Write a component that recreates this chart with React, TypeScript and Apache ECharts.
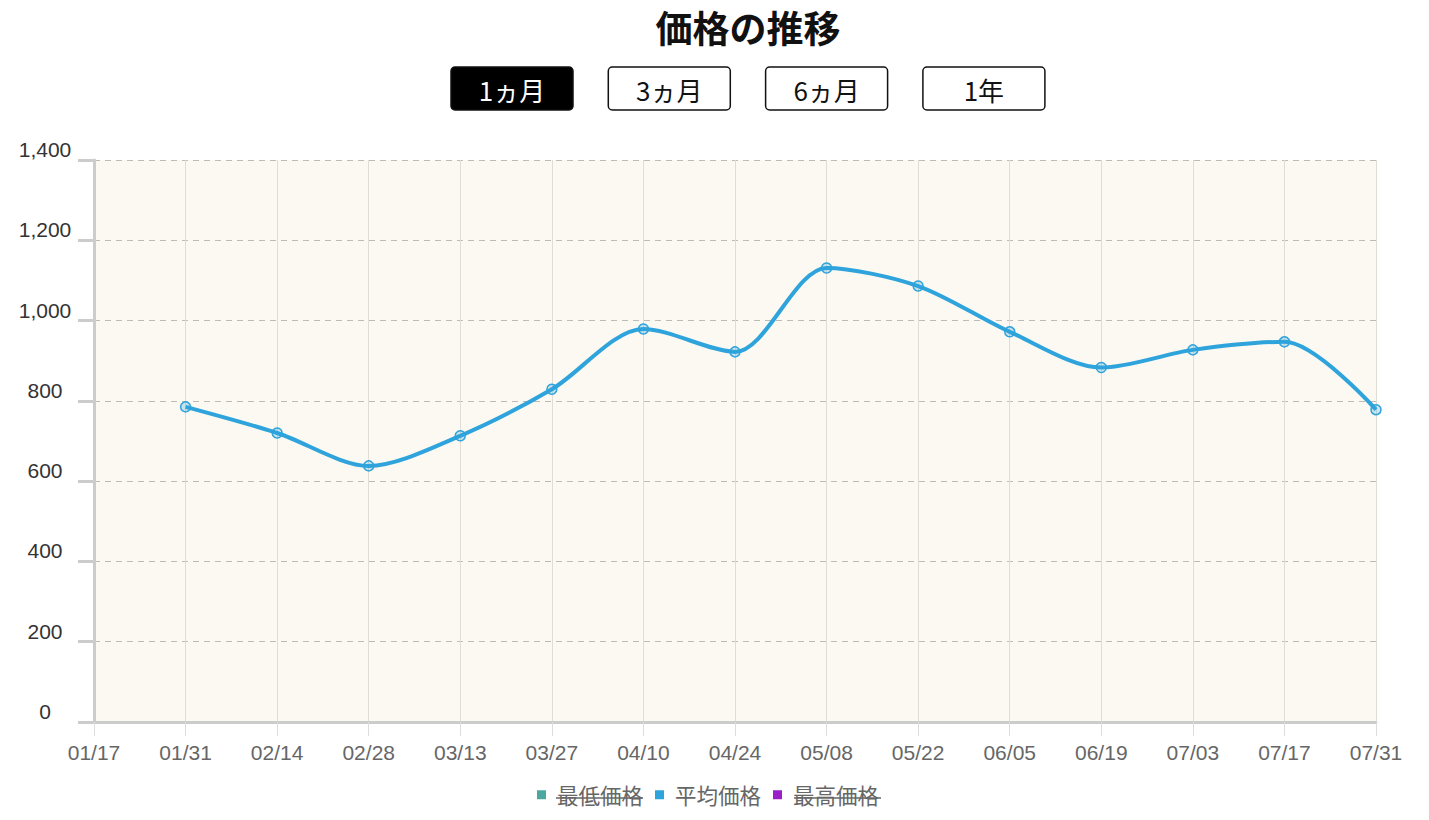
import { useRef, useEffect } from 'react'
import * as echarts from 'echarts'

const categories = [
  '01/17', '01/31', '02/14', '02/28', '03/13', '03/27', '04/10', '04/24',
  '05/08', '05/22', '06/05', '06/19', '07/03', '07/17', '07/31',
]
const avgPrice: (number | null)[] = [
  null, 785, 720, 638, 713, 829, 979, 922, 1131, 1086, 972, 883, 927, 947, 778,
]
const minPrice: number[] = []
const maxPrice: number[] = []
const rangeButtons = ['1ヵ月', '3ヵ月', '6ヵ月', '1年']

const FONT = "Arial, 'Liberation Sans', 'Noto Sans CJK JP', sans-serif"
const JP_FONT = "'Noto Sans CJK JP', sans-serif"
const AVG_COLOR = '#2ea3dc'
const MIN_COLOR = '#4aa8a0'
const MAX_COLOR = '#9b1fc9'

export default function App() {
  const chartRef = useRef<HTMLDivElement>(null)

  useEffect(() => {
    if (!chartRef.current) return
    const chart = echarts.init(chartRef.current, undefined, { renderer: 'svg' })

    // range buttons (first one active)
    const buttons = rangeButtons.map((label, i) => {
      const x = 451 + i * 157.3
      const active = i === 0
      return {
        type: 'group',
        children: [
          {
            type: 'rect',
            shape: { x, y: 67, width: 122, height: 43, r: 4 },
            style: { fill: active ? '#000' : '#fff', stroke: '#111', lineWidth: 1.5 },
          },
          {
            type: 'text',
            x: x + 61,
            y: 89,
            style: {
              text: label,
              fill: active ? '#fff' : '#111',
              font: `26px ${JP_FONT}`,
              textAlign: 'center',
              textVerticalAlign: 'middle',
            },
          },
        ],
      }
    })

    // strike-through over the hidden legend entries
    const strikes = [
      { x1: 556, x2: 643 },
      { x1: 794, x2: 881 },
    ].map((s) => ({
      type: 'line',
      shape: { x1: s.x1, y1: 798, x2: s.x2, y2: 798 },
      style: { stroke: '#666', lineWidth: 1.5 },
      z: 100,
    }))

    chart.setOption({
      animation: false,
      textStyle: { fontFamily: FONT },
      title: {
        text: '価格の推移',
        left: 748,
        top: 5,
        padding: 0,
        textAlign: 'center',
        textStyle: { fontSize: 37, fontWeight: 'bold', color: '#111', fontFamily: JP_FONT, lineHeight: 44 },
      },
      graphic: [...buttons, ...strikes],
      legend: {
        top: 784,
        left: 537,
        padding: 0,
        icon: 'rect',
        itemWidth: 9,
        itemHeight: 9,
        itemGap: 12,
        selectedMode: false,
        textStyle: { fontSize: 21.5, color: '#666', fontFamily: JP_FONT, padding: [0, 0, 0, 6] },
        data: [
          { name: '最低価格', itemStyle: { color: MIN_COLOR } },
          { name: '平均価格', itemStyle: { color: AVG_COLOR, borderWidth: 0 } },
          { name: '最高価格', itemStyle: { color: MAX_COLOR } },
        ],
      },
      grid: {
        left: 94,
        right: 53,
        top: 160,
        bottom: 98,
        show: true,
        backgroundColor: '#fbf9f1',
        borderWidth: 0,
      },
      xAxis: {
        type: 'category',
        data: categories,
        boundaryGap: false,
        axisLine: { lineStyle: { color: '#ccc', width: 3 } },
        axisTick: { show: true, length: 14, lineStyle: { color: '#ddd', width: 1 } },
        axisLabel: { color: '#666', fontSize: 21, margin: 20, interval: 0 },
        splitLine: { show: true, lineStyle: { color: '#e0ddd4', width: 1 } },
      },
      yAxis: {
        type: 'value',
        min: 0,
        max: 1400,
        interval: 200,
        axisLine: { show: true, lineStyle: { color: '#ccc', width: 3 } },
        axisTick: { show: true, length: 16, lineStyle: { color: '#ccc', width: 3 } },
        axisLabel: {
          color: '#333',
          fontSize: 21,
          align: 'center',
          verticalAlign: 'bottom',
          margin: 49,
          formatter: (v: number) => v.toLocaleString('en-US'),
        },
        splitLine: { lineStyle: { color: '#bdbbb5', type: [6, 5] } },
      },
      series: [
        {
          name: '最低価格',
          type: 'line',
          data: minPrice,
          itemStyle: { color: MIN_COLOR },
        },
        {
          name: '平均価格',
          type: 'line',
          data: avgPrice,
          smooth: 0.3,
          symbol: 'circle',
          symbolSize: 10,
          lineStyle: { color: AVG_COLOR, width: 4 },
          itemStyle: { color: 'rgba(46,163,220,0.25)', borderColor: AVG_COLOR, borderWidth: 1.5 },
        },
        {
          name: '最高価格',
          type: 'line',
          data: maxPrice,
          itemStyle: { color: MAX_COLOR },
        },
      ],
    })

    return () => {
      chart.dispose()
    }
  }, [])

  return (
    <div
      ref={chartRef}
      style={{ position: 'absolute', left: 0, top: 0, width: 1429, height: 820, background: '#fff' }}
    />
  )
}
